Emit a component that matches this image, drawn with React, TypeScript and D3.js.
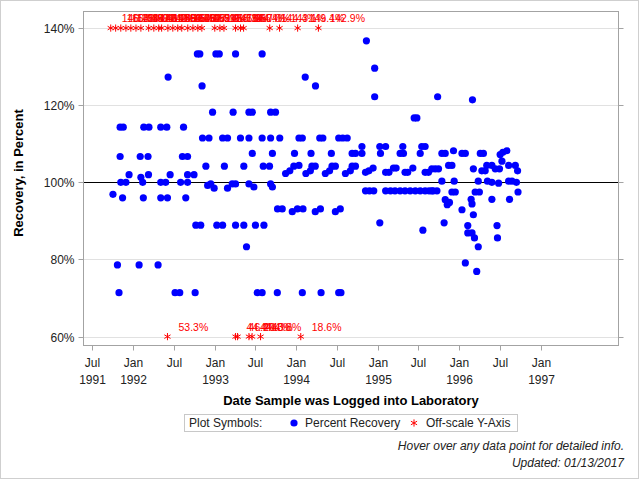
import React, { useEffect } from "react";
import * as d3 from "d3";

// Percent recovery of each logged sample: [date logged, recovery %]
const recoverySamples: [string, number][] = [
  ["1991-10-03", 96.9], ["1991-10-23", 78.6], ["1991-10-30", 71.4],
  ["1991-11-04", 114.3], ["1991-11-04", 106.7], ["1991-11-07", 100.0],
  ["1991-11-15", 96.0], ["1991-11-18", 114.3], ["1991-11-30", 100.0],
  ["1991-12-14", 102.0], ["1992-01-28", 78.6], ["1992-02-02", 106.7],
  ["1992-02-05", 101.3], ["1992-02-13", 100.0], ["1992-02-16", 96.0],
  ["1992-02-18", 114.3], ["1992-03-08", 106.7], ["1992-03-10", 102.0],
  ["1992-03-12", 114.3], ["1992-04-22", 78.6], ["1992-05-04", 114.3],
  ["1992-05-04", 100.0], ["1992-05-04", 96.0], ["1992-05-26", 100.0],
  ["1992-05-31", 114.3], ["1992-06-03", 96.0], ["1992-06-06", 127.3],
  ["1992-06-15", 102.0], ["1992-07-07", 71.4], ["1992-07-28", 71.4],
  ["1992-08-01", 100.0], ["1992-08-09", 106.7], ["1992-08-14", 114.3],
  ["1992-08-24", 96.0], ["1992-09-01", 106.7], ["1992-09-01", 102.0],
  ["1992-09-01", 100.0], ["1992-09-30", 102.0], ["1992-10-05", 71.4],
  ["1992-10-08", 88.9], ["1992-10-15", 133.3], ["1992-10-26", 133.3],
  ["1992-10-30", 88.9], ["1992-11-05", 125.0], ["1992-11-07", 111.5],
  ["1992-11-22", 104.2], ["1992-11-30", 99.2], ["1992-12-06", 111.5],
  ["1992-12-14", 99.6], ["1992-12-22", 118.2], ["1992-12-29", 98.5],
  ["1993-01-06", 133.3], ["1993-01-10", 88.9], ["1993-01-21", 133.3],
  ["1993-02-05", 111.5], ["1993-02-05", 88.9], ["1993-02-13", 104.2],
  ["1993-02-27", 111.5], ["1993-02-27", 98.5], ["1993-03-20", 99.6],
  ["1993-03-24", 118.2], ["1993-04-04", 133.3], ["1993-04-04", 99.6],
  ["1993-04-04", 88.9], ["1993-04-26", 111.5], ["1993-05-11", 104.2],
  ["1993-05-11", 88.9], ["1993-05-23", 83.3], ["1993-06-03", 111.5],
  ["1993-06-03", 118.2], ["1993-06-03", 99.6], ["1993-06-18", 118.2],
  ["1993-06-18", 107.5], ["1993-06-25", 98.8], ["1993-07-02", 88.9],
  ["1993-07-10", 71.4], ["1993-08-01", 133.3], ["1993-08-01", 111.5],
  ["1993-08-01", 71.4], ["1993-08-06", 104.2], ["1993-08-09", 88.9],
  ["1993-09-03", 104.2], ["1993-09-08", 118.2], ["1993-09-08", 111.5],
  ["1993-09-08", 99.6], ["1993-09-16", 107.5], ["1993-09-16", 98.8],
  ["1993-09-30", 118.2], ["1993-10-08", 71.4], ["1993-10-09", 93.1],
  ["1993-10-19", 111.5], ["1993-10-30", 93.1], ["1993-11-14", 102.3],
  ["1993-12-03", 103.0], ["1993-12-14", 92.4], ["1993-12-21", 104.2],
  ["1993-12-24", 107.5], ["1994-01-06", 93.1], ["1994-01-13", 104.4],
  ["1994-01-13", 111.5], ["1994-01-28", 111.5], ["1994-01-28", 71.4],
  ["1994-01-31", 93.1], ["1994-02-10", 127.3], ["1994-02-13", 102.3],
  ["1994-03-05", 103.0], ["1994-03-08", 107.5], ["1994-03-12", 104.2],
  ["1994-03-27", 104.2], ["1994-03-27", 92.4], ["1994-03-28", 125.0],
  ["1994-04-16", 111.5], ["1994-04-19", 93.1], ["1994-04-22", 71.4],
  ["1994-04-30", 111.5], ["1994-05-11", 102.3], ["1994-05-30", 103.0],
  ["1994-06-07", 107.5], ["1994-06-10", 104.2], ["1994-06-25", 104.2],
  ["1994-06-25", 92.4], ["1994-07-10", 111.5], ["1994-07-10", 71.4],
  ["1994-07-17", 93.1], ["1994-07-20", 71.4], ["1994-07-28", 111.5],
  ["1994-08-09", 102.3], ["1994-08-17", 111.5], ["1994-08-31", 103.0],
  ["1994-09-08", 107.5], ["1994-09-08", 104.2], ["1994-09-23", 107.5],
  ["1994-09-23", 104.2], ["1994-10-22", 107.5], ["1994-10-22", 109.3],
  ["1994-11-07", 102.6], ["1994-11-07", 97.8], ["1994-11-11", 136.7],
  ["1994-11-22", 103.0], ["1994-11-25", 97.8], ["1994-12-11", 103.7],
  ["1994-12-14", 97.8], ["1994-12-18", 129.6], ["1994-12-18", 122.2],
  ["1995-01-10", 109.3], ["1995-01-10", 89.5], ["1995-01-13", 107.5],
  ["1995-02-05", 109.3], ["1995-02-05", 102.6], ["1995-02-05", 97.8],
  ["1995-02-20", 102.6], ["1995-02-27", 97.8], ["1995-03-12", 103.7],
  ["1995-03-19", 97.8], ["1995-03-24", 103.7], ["1995-04-11", 97.8],
  ["1995-04-11", 107.5], ["1995-04-23", 109.3], ["1995-04-26", 107.5],
  ["1995-05-03", 102.6], ["1995-05-03", 97.8], ["1995-05-15", 102.6],
  ["1995-05-26", 97.8], ["1995-06-07", 103.7], ["1995-06-13", 116.7],
  ["1995-06-18", 97.8], ["1995-06-25", 116.7], ["1995-07-10", 107.5],
  ["1995-07-10", 97.8], ["1995-07-17", 109.3], ["1995-07-22", 87.6],
  ["1995-08-01", 109.3], ["1995-08-01", 102.6], ["1995-08-01", 97.8],
  ["1995-08-16", 102.6], ["1995-08-19", 97.8], ["1995-08-31", 103.5],
  ["1995-08-31", 97.8], ["1995-09-06", 97.8], ["1995-09-15", 103.5],
  ["1995-09-23", 97.8], ["1995-09-26", 122.2], ["1995-09-30", 103.5],
  ["1995-10-15", 107.5], ["1995-10-15", 100.3], ["1995-10-25", 89.5],
  ["1995-10-30", 107.5], ["1995-10-30", 95.5], ["1995-11-08", 94.2],
  ["1995-11-14", 104.4], ["1995-11-18", 94.8], ["1995-11-29", 104.4],
  ["1995-11-29", 97.5], ["1995-12-06", 108.2], ["1995-12-09", 100.3],
  ["1995-12-14", 97.5], ["1996-01-13", 107.5], ["1996-01-13", 92.9],
  ["1996-01-28", 107.5], ["1996-01-28", 79.1], ["1996-02-08", 88.8],
  ["1996-02-08", 86.9], ["1996-02-23", 95.6], ["1996-02-27", 94.4],
  ["1996-02-27", 86.9], ["1996-02-29", 121.4], ["1996-03-04", 103.5],
  ["1996-03-04", 91.6], ["1996-03-09", 85.6], ["1996-03-12", 97.5],
  ["1996-03-19", 76.9], ["1996-03-26", 100.3], ["1996-03-26", 83.3],
  ["1996-03-31", 97.5], ["1996-04-04", 107.5], ["1996-04-11", 103.0],
  ["1996-04-18", 107.5], ["1996-04-26", 103.0], ["1996-05-03", 104.4],
  ["1996-05-06", 100.3], ["1996-05-26", 104.4], ["1996-05-26", 100.0],
  ["1996-05-26", 95.6], ["1996-06-10", 103.5], ["1996-06-18", 88.8],
  ["1996-06-20", 85.6], ["1996-06-25", 99.8], ["1996-06-29", 103.5],
  ["1996-07-02", 107.2], ["1996-07-10", 105.5], ["1996-07-14", 107.8],
  ["1996-08-01", 108.2], ["1996-08-09", 104.4], ["1996-08-09", 100.3],
  ["1996-08-13", 95.6], ["1996-08-24", 100.3], ["1996-09-08", 104.4],
  ["1996-09-13", 100.0], ["1996-09-18", 103.0], ["1996-09-20", 97.5],
];

// Samples whose recovery lies above the top of the axis
const offScaleHigh: [string, number][] = [
  ["1991-09-23", 146.7], ["1991-10-15", 160.0], ["1991-11-07", 153.3],
  ["1991-11-30", 142.9], ["1991-12-22", 150.0], ["1992-01-14", 144.4],
  ["1992-02-05", 157.1], ["1992-03-11", 146.2], ["1992-04-03", 171.4],
  ["1992-04-25", 142.9], ["1992-05-08", 148.1], ["1992-06-05", 155.6],
  ["1992-06-27", 166.7], ["1992-07-19", 145.5], ["1992-08-06", 150.0],
  ["1992-09-02", 143.8], ["1992-09-25", 162.5], ["1992-10-17", 147.1],
  ["1992-11-04", 152.9], ["1993-01-01", 141.7], ["1993-01-24", 158.3],
  ["1993-02-11", 145.0], ["1993-04-04", 166.7], ["1993-04-26", 144.4],
  ["1993-05-10", 150.0], ["1993-09-04", 144.4], ["1993-10-18", 143.1],
  ["1994-01-07", 149.4], ["1994-04-10", 142.9],
];

// Samples whose recovery lies below the bottom of the axis
const offScaleLow: [string, number][] = [
  ["1992-06-03", 53.3], ["1993-04-04", 44.4], ["1993-04-13", 46.2],
  ["1993-06-03", 44.4], ["1993-06-17", 40.0], ["1993-07-25", 43.8],
  ["1994-01-21", 18.6],
];

const yTicks = [60, 80, 100, 120, 140];
const xTickDates = [
  "1991-07-01", "1992-01-01", "1992-07-01", "1993-01-01", "1993-07-01",
  "1994-01-01", "1994-07-01", "1995-01-01", "1995-07-01", "1996-01-01",
  "1996-07-01", "1997-01-01",
];
const xDomain = ["1991-05-24", "1997-12-14"];
const yDomain = [57.7, 144.3];
const axisLimitLow = 60;
const axisLimitHigh = 140;
const referenceLevel = 100;

const FONT = "Arial, 'Liberation Sans', Helvetica, sans-serif";
const ASTERISK = "M0,-3.6V3.6M-3.1,-1.8L3.1,1.8M-3.1,1.8L3.1,-1.8";

export default function App() {
  useEffect(() => {
    document.body.style.margin = "0";
  }, []);

  const width = 640;
  const height = 480;
  const plot = { left: 83.5, right: 618.5, top: 11.5, bottom: 345.5 };

  const parse = d3.timeParse("%Y-%m-%d");
  const x = d3
    .scaleTime()
    .domain([parse(xDomain[0])!, parse(xDomain[1])!])
    .range([plot.left, plot.right]);
  const y = d3.scaleLinear().domain(yDomain).range([plot.bottom, plot.top]);

  const fmtMonth = d3.timeFormat("%b");
  const fmtYear = d3.timeFormat("%Y");
  const fmtPct = (v: number) => d3.format(".1f")(v) + "%";

  const points = recoverySamples.map(([d, v]) => ({ cx: x(parse(d)!), cy: y(v), v }));
  const high = offScaleHigh.map(([d, v]) => ({ cx: x(parse(d)!), cy: y(axisLimitHigh), v }));
  const low = offScaleLow.map(([d, v]) => ({ cx: x(parse(d)!), cy: y(axisLimitLow), v }));
  const offScale = [...high, ...low];

  const xTicks = xTickDates.map((s) => parse(s)!);
  const gridColor = "#e1e1e1";
  const axisColor = "#a3a3a3";
  const textColor = "#222";

  return (
    <svg
      width={width}
      height={height}
      style={{ display: "block", position: "absolute", left: 0, top: 0, background: "#fff" }}
      fontFamily={FONT}
    >
      <rect x={0.5} y={0.5} width={width - 2} height={height - 2} fill="#fff" stroke="#cfcfcf" />

      {/* horizontal grid */}
      {yTicks
        .filter((t) => t !== referenceLevel)
        .map((t) => (
          <line
            key={"g" + t}
            x1={plot.left}
            x2={plot.right}
            y1={Math.round(y(t)) + 0.5}
            y2={Math.round(y(t)) + 0.5}
            stroke={gridColor}
          />
        ))}
      {/* 100% reference line */}
      <line
        x1={plot.left}
        x2={plot.right}
        y1={Math.round(y(referenceLevel)) + 0.5}
        y2={Math.round(y(referenceLevel)) + 0.5}
        stroke="#000"
      />

      {/* recovery points */}
      {points.map((p, i) => (
        <circle key={"p" + i} cx={p.cx} cy={p.cy} r={3.6} fill="#0000ff" />
      ))}

      {/* off-scale markers with their true values */}
      {offScale.map((p, i) => (
        <path
          key={"a" + i}
          d={ASTERISK}
          transform={`translate(${p.cx},${p.cy})`}
          stroke="#ff0000"
          strokeWidth={1}
          fill="none"
        />
      ))}
      {offScale.map((p, i) => (
        <text key={"l" + i} x={p.cx + 11} y={p.cy - 6} fontSize={10.5} fill="#ff0000">
          {fmtPct(p.v)}
        </text>
      ))}

      {/* frame */}
      <rect
        x={plot.left}
        y={plot.top}
        width={plot.right - plot.left}
        height={plot.bottom - plot.top}
        fill="none"
        stroke={axisColor}
      />

      {/* y axis ticks and labels */}
      {yTicks.map((t) => {
        const ty = Math.round(y(t)) + 0.5;
        return (
          <g key={"y" + t}>
            <line x1={plot.left - 5} x2={plot.left} y1={ty} y2={ty} stroke={axisColor} />
            <line x1={plot.right} x2={plot.right + 5} y1={ty} y2={ty} stroke={axisColor} />
            <text x={plot.left - 9} y={ty + 4} fontSize={12} textAnchor="end" fill={textColor}>
              {t}%
            </text>
          </g>
        );
      })}

      {/* x axis ticks and labels */}
      {xTicks.map((d, i) => {
        const tx = Math.round(x(d)) + 0.5;
        return (
          <g key={"x" + i}>
            <line x1={tx} x2={tx} y1={plot.bottom} y2={plot.bottom + 5} stroke={axisColor} />
            <text x={tx} y={367} fontSize={12} textAnchor="middle" fill={textColor}>
              {fmtMonth(d)}
            </text>
            {fmtMonth(d) === "Jan" || i === 0 ? (
              <text x={tx} y={384} fontSize={12} textAnchor="middle" fill={textColor}>
                {fmtYear(d)}
              </text>
            ) : null}
          </g>
        );
      })}

      {/* axis titles */}
      <text
        transform={`translate(23,173) rotate(-90)`}
        fontSize={13}
        fontWeight="bold"
        textAnchor="middle"
        fill="#000"
      >
        Recovery, in Percent
      </text>
      <text
        x={(plot.left + plot.right) / 2}
        y={405}
        fontSize={13}
        fontWeight="bold"
        textAnchor="middle"
        fill="#000"
      >
        Date Sample was Logged into Laboratory
      </text>

      {/* legend */}
      <rect x={184.5} y={414.5} width={333} height={17} fill="#fff" stroke="#c8c8c8" />
      <text x={189} y={427} fontSize={12} fill={textColor}>
        Plot Symbols:
      </text>
      <circle cx={294} cy={423} r={3.6} fill="#0000ff" />
      <text x={305} y={427} fontSize={12} fill={textColor}>
        Percent Recovery
      </text>
      <path d={ASTERISK} transform="translate(414,423)" stroke="#ff0000" fill="none" />
      <text x={426} y={427} fontSize={12} fill={textColor}>
        Off-scale Y-Axis
      </text>

      {/* footnotes */}
      <text x={624} y={450} fontSize={12} fontStyle="italic" textAnchor="end" fill={textColor}>
        Hover over any data point for detailed info.
      </text>
      <text x={624} y={467} fontSize={12} fontStyle="italic" textAnchor="end" fill={textColor}>
        Updated: 01/13/2017
      </text>
    </svg>
  );
}
